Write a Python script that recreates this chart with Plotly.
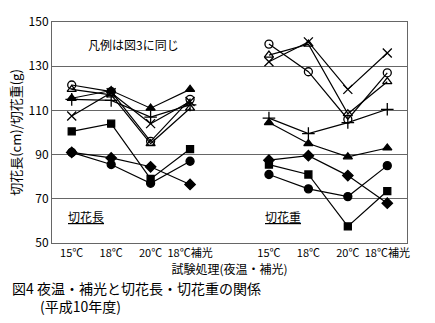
import plotly.graph_objects as go

# Categories (night temperature / supplemental light)
categories = ["15℃", "18℃", "20℃", "18℃補光"]
group_gap = 1  # empty slot between the two groups

# Cut flower length (cm) — left group
length_open_circle = [121.5, 118.5, 96.0, 115.0]
length_open_triangle = [119.5, 117.0, 95.0, 111.0]
length_x = [107.5, 118.0, 104.0, 114.0]
length_plus = [115.0, 114.5, 107.0, 112.5]
length_filled_triangle = [115.5, 119.0, 111.0, 119.5]
length_filled_square = [100.5, 104.0, 79.0, 92.5]
length_filled_circle = [91.0, 85.5, 77.0, 87.0]
length_filled_diamond = [91.0, 88.5, 84.5, 76.5]

# Cut flower weight (g) — right group
weight_open_circle = [140.0, 127.5, 106.0, 127.0]
weight_open_triangle = [135.0, 140.0, 108.5, 123.0]
weight_x = [132.0, 141.0, 119.5, 136.0]
weight_plus = [106.5, 99.5, 104.5, 110.5]
weight_filled_triangle = [104.5, 95.0, 89.0, 93.0]
weight_filled_square = [85.5, 81.0, 57.5, 73.5]
weight_filled_circle = [81.0, 74.5, 71.0, 85.0]
weight_filled_diamond = [87.5, 89.5, 80.5, 68.0]

series = [
    ("circle-open", length_open_circle, weight_open_circle, 8),
    ("triangle-up-open", length_open_triangle, weight_open_triangle, 8),
    ("x-thin-open", length_x, weight_x, 9),
    ("cross-thin-open", length_plus, weight_plus, 9),
    ("triangle-up", length_filled_triangle, weight_filled_triangle, 8),
    ("square", length_filled_square, weight_filled_square, 7),
    ("circle", length_filled_circle, weight_filled_circle, 8),
    ("diamond", length_filled_diamond, weight_filled_diamond, 8),
]

n = len(categories)
left_x = list(range(n))
right_x = [i + n + group_gap for i in range(n)]
xs = left_x + [None] + right_x

FONT = "Noto Sans CJK JP"

fig = go.Figure()
for sym, lvals, wvals, size in series:
    fig.add_trace(go.Scatter(
        x=xs,
        y=list(lvals) + [None] + list(wvals),
        mode="lines+markers",
        connectgaps=False,
        line=dict(color="black", width=1.2),
        marker=dict(symbol=sym, size=size, color="black",
                    line=dict(color="black", width=1.3)),
        showlegend=False,
    ))

fig.update_layout(
    width=435, height=323,
    margin=dict(l=52, r=28, t=17, b=80),
    paper_bgcolor="white", plot_bgcolor="white",
    font=dict(family=FONT, size=12, color="black"),
    xaxis=dict(
        range=[-0.5, 2 * n + group_gap - 0.5],
        tickvals=left_x + right_x,
        ticktext=categories + categories,
        showgrid=False, zeroline=False,
        showline=True, linecolor="#666", linewidth=1, mirror=True,
        ticks="", tickfont=dict(size=11),
        title=dict(text="試験処理(夜温・補光)", font=dict(size=12), standoff=0),
    ),
    yaxis=dict(
        range=[50, 150], tickvals=[50, 70, 90, 110, 130, 150],
        showgrid=True, gridcolor="#666", gridwidth=1, zeroline=False,
        showline=True, linecolor="#666", linewidth=1, mirror=True,
        ticks="", tickfont=dict(size=12),
        title=dict(text="切花長(cm)/切花重(g)", font=dict(size=13), standoff=4),
    ),
    annotations=[
        dict(text="凡例は図3に同じ", xref="paper", yref="paper", x=0.095, y=0.9,
             xanchor="left", yanchor="middle", showarrow=False, font=dict(size=12)),
        dict(text="<u>切花長</u>", xref="x", yref="y", x=0.35, y=62,
             xanchor="center", yanchor="middle", showarrow=False, font=dict(size=12)),
        dict(text="<u>切花重</u>", xref="x", yref="y", x=5.35, y=62,
             xanchor="center", yanchor="middle", showarrow=False, font=dict(size=12)),
        dict(text="図4 夜温・補光と切花長・切花重の関係<br>　　(平成10年度)",
             xref="paper", yref="paper", align="left",
             x=-0.118, y=-0.148, xanchor="left", yanchor="top",
             showarrow=False, font=dict(size=14)),
    ],
)

fig.write_html("out.html")
